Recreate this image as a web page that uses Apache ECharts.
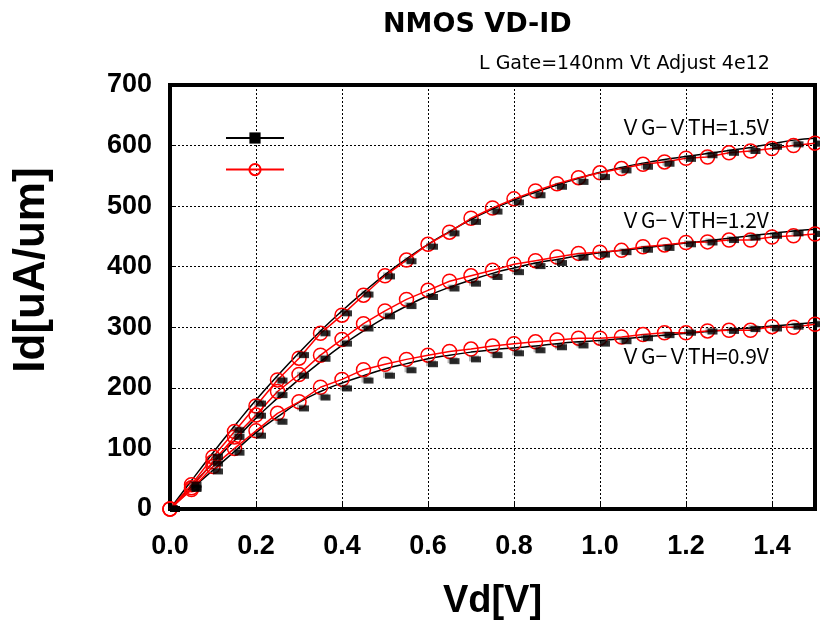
<!DOCTYPE html>
<html>
<head>
<meta charset="utf-8">
<script src="https://cdn.jsdelivr.net/npm/echarts@6/dist/echarts.min.js"></script>
<style>
  html, body { margin: 0; padding: 0; background: #fff; }
  #chart { width: 820px; height: 629px; }
</style>
</head>
<body>
<div id="chart"></div>
<script>
// Vd 掃引点 (V)
const vd = [0, 0.05, 0.1, 0.15, 0.2, 0.25, 0.3, 0.35, 0.4, 0.45, 0.5, 0.55, 0.6, 0.65, 0.7, 0.75,
  0.8, 0.85, 0.9, 0.95, 1.0, 1.05, 1.1, 1.15, 1.2, 1.25, 1.3, 1.35, 1.4, 1.45, 1.5];

// 黒線 (なめらかな曲線)
const line15 = [0, 47, 93, 137, 180, 220, 258, 294, 327, 358, 387, 413, 437, 458, 478, 495,
  510, 523, 535, 546, 556, 564, 571, 577, 582, 587, 592, 597, 603, 609, 612];
const line12 = [0, 38, 76, 113, 150, 183, 214, 243, 270, 294, 316, 335, 352, 366, 378, 389,
  398, 406, 412, 418, 423, 427, 431, 435, 439, 443, 447, 451, 455, 459, 462];
const line09 = [0, 33, 64, 95, 126, 152, 176, 194, 208, 220, 231, 240, 248, 254, 259, 263,
  266, 269, 273, 276, 278, 281, 284, 287, 290, 293, 296, 299, 302, 305, 308];

// 黒四角
const sq15 = [0, 40, 86, 130, 174, 212, 254, 290, 323, 354, 384, 409, 433, 455, 474, 491,
  506, 518, 532, 540, 548, 559, 565, 570, 578, 584, 588, 591, 598, 602, 603];
const sq12 = [0, 35, 75, 119, 154, 188, 220, 248, 273, 298, 318, 335, 350, 364, 372, 383,
  391, 401, 406, 415, 420, 424, 428, 431, 437, 440, 444, 448, 451, 455, 454];
const sq09 = [0, 33, 62, 93, 121, 144, 166, 184, 199, 212, 220, 229, 239, 244, 247, 254,
  257, 262, 267, 270, 273, 277, 282, 287, 291, 293, 294, 297, 298, 301, 305];

// 赤丸
const red15 = [0, 40, 86, 128, 170, 213, 249, 290, 320, 353, 385, 411, 437, 457, 480, 497,
  512, 525, 537, 547, 555, 562, 569, 573, 579, 581, 588, 591, 595, 600, 604];
const red12 = [0, 35, 78, 119, 155, 194, 222, 254, 280, 306, 327, 346, 361, 376, 385, 394,
  404, 410, 416, 422, 424, 427, 433, 436, 440, 441, 444, 444, 449, 451, 454];
const red09 = [0, 32, 70, 100, 129, 158, 177, 201, 214, 230, 239, 247, 254, 260, 264, 269,
  273, 276, 279, 282, 282, 284, 288, 291, 291, 294, 295, 295, 301, 300, 305];

const curveLabels = ['ＶG−ＶTH=1.5V', 'ＶG−ＶTH=1.2V', 'ＶG−ＶTH=0.9V'];

const pair = arr => vd.map((x, i) => [x, arr[i]]);

const numFont = "'Liberation Sans Narrow', 'Liberation Sans', Arial, sans-serif";
const gothic = "'Noto Sans CJK JP', 'DejaVu Sans', sans-serif";

function blackLine(arr) {
  return {
    name: 'Sim', type: 'line', smooth: true, data: pair(arr),
    symbol: 'rect', symbolSize: [8, 5], showSymbol: false,
    lineStyle: { color: '#000', width: 1.5 },
    itemStyle: { color: '#000' },
    z: 2, silent: true
  };
}

function redLine(arr) {
  return {
    name: 'Meas', type: 'line', data: pair(arr),
    symbol: 'circle', symbolSize: 14,
    lineStyle: { color: '#ff0000', width: 1.5 },
    itemStyle: { color: 'rgba(0,0,0,0)', borderColor: '#ff0000', borderWidth: 1.5 },
    z: 3, silent: true
  };
}

function squares(arr) {
  return {
    name: 'Sq', type: 'scatter', data: pair(arr),
    symbol: 'rect', symbolSize: [10, 6], symbolOffset: [5, 0],
    itemStyle: {
      color: '#000', shadowColor: 'rgba(0,0,0,0.35)', shadowBlur: 0,
      shadowOffsetX: -2, shadowOffsetY: -1
    },
    z: 4, silent: true
  };
}

const chart = echarts.init(document.getElementById('chart'));

const option = {
  animation: false,
  title: [
    {
      text: 'NMOS VD-ID', left: 378, top: 6,
      textStyle: { fontFamily: 'DejaVu Sans', fontSize: 27, fontWeight: 'bold', color: '#000' }
    },
    {
      text: 'L Gate=140nm Vt Adjust 4e12', left: 474, top: 50,
      textStyle: { fontFamily: 'DejaVu Sans', fontSize: 19, fontWeight: 'normal', color: '#000' }
    }
  ],
  legend: {
    orient: 'vertical', left: 220, top: 126,
    itemWidth: 58, itemHeight: 14, itemGap: 19,
    data: ['Sim', 'Meas'],
    formatter: () => '',
    selectedMode: false
  },
  grid: {
    left: 170, right: 5, top: 85, bottom: 120,
    show: true, borderColor: '#000', borderWidth: 4
  },
  xAxis: {
    type: 'value', min: 0, max: 1.5, interval: 0.2,
    name: 'Vd[V]', nameLocation: 'middle', nameGap: 74,
    nameTextStyle: { fontFamily: "'Liberation Sans', Arial, sans-serif", fontSize: 38, fontWeight: 'bold', color: '#000' },
    axisLine: { lineStyle: { color: '#000', width: 4 } },
    axisTick: { inside: true, length: 6, lineStyle: { color: '#000', width: 1 } },
    splitLine: { show: true, lineStyle: { color: '#000', type: [2, 2], width: 1 } },
    axisLabel: {
      margin: 24, color: '#000', fontFamily: numFont, fontSize: 27, fontWeight: 'bold',
      formatter: v => (Math.abs(v / 0.2 - Math.round(v / 0.2)) < 1e-6 ? v.toFixed(1) : '')
    }
  },
  yAxis: {
    type: 'value', min: 0, max: 700, interval: 100,
    name: 'Id[uA/um]', nameLocation: 'middle', nameGap: 116,
    nameTextStyle: {
      fontFamily: "'Liberation Sans', Arial, sans-serif", fontSize: 44, fontWeight: 'bold', color: '#000',
      padding: [0, 0, 0, 54]
    },
    axisLine: { show: true, lineStyle: { color: '#000', width: 4 } },
    axisTick: { show: true, inside: true, length: 6, lineStyle: { color: '#000', width: 1 } },
    splitLine: { show: true, lineStyle: { color: '#000', type: [2, 2], width: 1 } },
    axisLabel: { margin: 18, color: '#000', fontFamily: numFont, fontSize: 27, fontWeight: 'bold' }
  },
  graphic: [
    { type: 'text', left: 620, top: 117, style: { text: curveLabels[0], font: '21px ' + gothic, fill: '#000' } },
    { type: 'text', left: 620, top: 210, style: { text: curveLabels[1], font: '21px ' + gothic, fill: '#000' } },
    { type: 'text', left: 620, top: 346, style: { text: curveLabels[2], font: '21px ' + gothic, fill: '#000' } }
  ],
  series: [
    blackLine(line15), blackLine(line12), blackLine(line09),
    redLine(red15), redLine(red12), redLine(red09),
    squares(sq15), squares(sq12), squares(sq09)
  ]
};

chart.setOption(option);
</script>
</body>
</html>
